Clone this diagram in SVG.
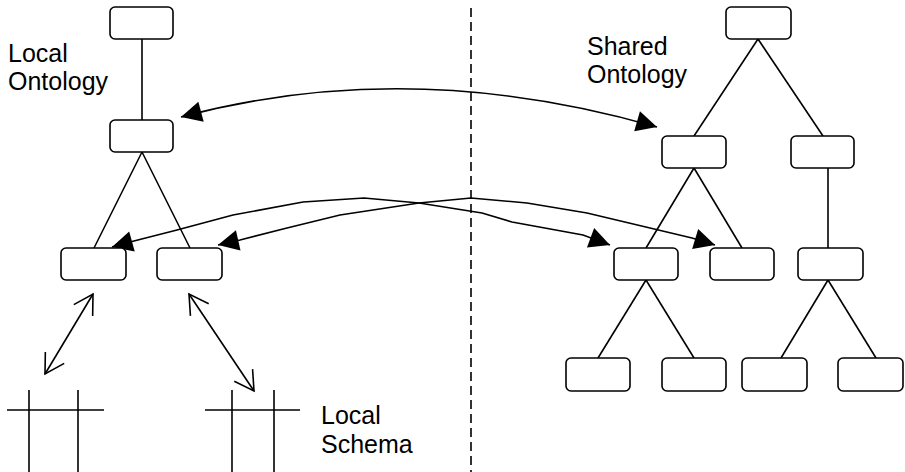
<svg xmlns="http://www.w3.org/2000/svg" width="905" height="472" viewBox="0 0 905 472">
  <defs>
    <style>
      .node { fill: #fff; stroke: #000; stroke-width: 1.6; }
      .edge { fill: none; stroke: #000; stroke-width: 1.6; }
      .map { fill: none; stroke: #000; stroke-width: 1.6; marker-start: url(#solid); marker-end: url(#solid); }
      .link { fill: none; stroke: #000; stroke-width: 1.6; marker-start: url(#open); marker-end: url(#open); }
      .schema { fill: none; stroke: #000; stroke-width: 1.6; }
      .divider { fill: none; stroke: #000; stroke-width: 1.6; stroke-dasharray: 9 5; }
      text { font-family: "Liberation Sans", Arial, sans-serif; font-size: 25px; fill: #000; }
    </style>
    <marker id="solid" markerUnits="userSpaceOnUse" markerWidth="24" markerHeight="24" viewBox="-20 -10 22 20" refX="0" refY="0" orient="auto-start-reverse" overflow="visible">
      <path d="M0,0 L-19,-9.5 L-19,9.5 Z" fill="#000"/>
    </marker>
    <marker id="open" markerUnits="userSpaceOnUse" markerWidth="24" markerHeight="24" viewBox="-20 -12 22 24" refX="0" refY="0" orient="auto-start-reverse" overflow="visible">
      <path d="M-19,-11 L0,0 L-19,11" fill="none" stroke="#000" stroke-width="1.6"/>
    </marker>
  </defs>

  <!-- divider between local and shared side -->
  <line class="divider" x1="471" y1="8" x2="471" y2="472"/>

  <!-- labels -->
  <text x="8" y="62">Local</text>
  <text x="8" y="90">Ontology</text>
  <text x="587" y="55">Shared</text>
  <text x="587" y="83">Ontology</text>
  <text x="321" y="424">Local</text>
  <text x="321" y="453">Schema</text>

  <!-- tree edges and mapping arrows -->
  <g id="connectors">
    <!-- local ontology -->
    <line class="edge" x1="142" y1="39" x2="142" y2="120"/>
    <line class="edge" x1="142" y1="152" x2="94" y2="248"/>
    <line class="edge" x1="142" y1="152" x2="190" y2="248"/>
    <!-- shared ontology -->
    <line class="edge" x1="758" y1="39" x2="694" y2="136"/>
    <line class="edge" x1="758" y1="39" x2="823" y2="136"/>
    <line class="edge" x1="694" y1="168" x2="646" y2="248"/>
    <line class="edge" x1="694" y1="168" x2="742" y2="248"/>
    <line class="edge" x1="828" y1="168" x2="828" y2="248"/>
    <line class="edge" x1="646" y1="280" x2="598" y2="358"/>
    <line class="edge" x1="646" y1="280" x2="694" y2="358"/>
    <line class="edge" x1="828" y1="280" x2="781" y2="358"/>
    <line class="edge" x1="828" y1="280" x2="876" y2="358"/>
    <!-- mappings local <-> shared -->
    <path class="map" d="M181,117 Q410,56 657,127"/>
    <path class="map" d="M112,247 L130,242 L177,230 L233,215 L303,202 L364,198 L419,203 L482,213 L512,222 L583,235 L610,245"/>
    <path class="map" d="M218,245 L240,240 L287,228 L340,215 L419,203 L471,198 L527,203 L587,213 L692,238 L715,245"/>
    <!-- mappings local ontology <-> local schema -->
    <line class="link" x1="93" y1="294" x2="45" y2="374"/>
    <line class="link" x1="189" y1="294" x2="254" y2="391"/>
  </g>

  <!-- local ontology nodes -->
  <g id="local-root"><rect class="node" x="110" y="7" width="63" height="32" rx="5"/></g>
  <g id="local-mid"><rect class="node" x="110" y="120" width="63" height="32" rx="5"/></g>
  <g id="local-leaf-a"><rect class="node" x="61" y="248" width="65" height="32" rx="5"/></g>
  <g id="local-leaf-b"><rect class="node" x="157" y="248" width="65" height="32" rx="5"/></g>

  <!-- shared ontology nodes -->
  <g id="shared-root"><rect class="node" x="726" y="7" width="65" height="32" rx="5"/></g>
  <g id="shared-l2-a"><rect class="node" x="662" y="136" width="64" height="32" rx="5"/></g>
  <g id="shared-l2-b"><rect class="node" x="791" y="136" width="63" height="32" rx="5"/></g>
  <g id="shared-l3-a"><rect class="node" x="614" y="248" width="64" height="32" rx="5"/></g>
  <g id="shared-l3-b"><rect class="node" x="710" y="248" width="64" height="32" rx="5"/></g>
  <g id="shared-l3-c"><rect class="node" x="798" y="248" width="65" height="32" rx="5"/></g>
  <g id="shared-l4-a"><rect class="node" x="566" y="358" width="64" height="33" rx="5"/></g>
  <g id="shared-l4-b"><rect class="node" x="662" y="358" width="64" height="33" rx="5"/></g>
  <g id="shared-l4-c"><rect class="node" x="742" y="358" width="65" height="33" rx="5"/></g>
  <g id="shared-l4-d"><rect class="node" x="838" y="358" width="65" height="33" rx="5"/></g>

  <!-- local schemas -->
  <g id="schema-a">
    <line class="schema" x1="7" y1="410" x2="104" y2="410"/>
    <line class="schema" x1="29" y1="390" x2="29" y2="472"/>
    <line class="schema" x1="78" y1="390" x2="78" y2="472"/>
  </g>
  <g id="schema-b">
    <line class="schema" x1="205" y1="410" x2="300" y2="410"/>
    <line class="schema" x1="232" y1="390" x2="232" y2="472"/>
    <line class="schema" x1="274" y1="390" x2="274" y2="472"/>
  </g>
</svg>
